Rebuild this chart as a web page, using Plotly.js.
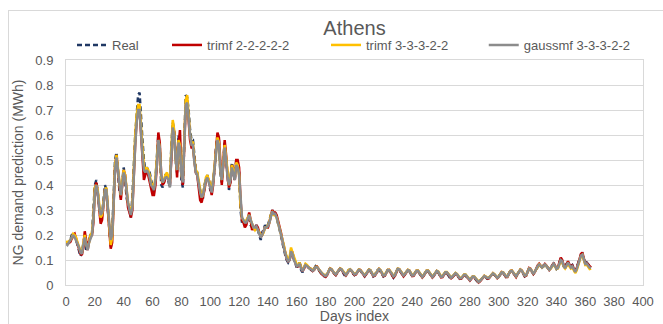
<!DOCTYPE html>
<html>
<head>
<meta charset="utf-8">
<script src="https://cdn.plot.ly/plotly-3.0.1.min.js"></script>
<style>
  html, body { margin: 0; padding: 0; background: #fff; }
  #wrap { position: relative; width: 663px; height: 324px; overflow: hidden; }
  #chart { position: absolute; left: 0; top: 0; width: 663px; height: 324px; }
  #frame { position: absolute; left: 8px; top: 10px; width: 670px; height: 330px;
           border: 1px solid #d9d9d9; pointer-events: none; }
</style>
</head>
<body>
<div id="wrap">
  <div id="chart"></div>
  <div id="frame"></div>
</div>
<script>
// Daily natural-gas demand for Athens (MWh), one value per day index 0..364
const real = [
  .17,.165,.17,.18,.2,.21,.19,.18,.16,.14,
  .115,.13,.17,.2,.14,.16,.19,.2,.2,.3,
  .4,.42,.36,.3,.26,.28,.33,.4,.38,.3,
  .22,.15,.2,.35,.5,.53,.45,.38,.35,.42,
  .47,.42,.35,.32,.3,.27,.35,.5,.6,.68,
  .76,.77,.65,.58,.5,.46,.47,.46,.45,.42,
  .4,.37,.42,.5,.6,.55,.4,.39,.42,.44,
  .44,.42,.39,.55,.65,.62,.5,.45,.6,.55,
  .42,.39,.6,.76,.75,.7,.62,.58,.58,.5,
  .46,.45,.4,.38,.35,.35,.4,.42,.44,.42,
  .38,.38,.42,.46,.55,.6,.58,.45,.41,.5,
  .57,.5,.42,.38,.42,.49,.45,.42,.5,.48,
  .45,.3,.25,.26,.24,.25,.27,.28,.24,.23,
  .22,.23,.24,.22,.2,.18,.21,.22,.24,.23,
  .24,.26,.29,.3,.28,.29,.27,.25,.22,.2,
  .17,.14,.12,.1,.09,.1,.14,.12,.1,.08,
  .07,.08,.09,.06,.05,.07,.08,.075,.07,.065,
  .06,.055,.065,.075,.07,.06,.05,.045,.04,.035,
  .035,.045,.06,.065,.06,.05,.045,.04,.05,.06,
  .065,.06,.05,.04,.04,.05,.06,.06,.055,.045,
  .04,.045,.055,.06,.058,.05,.04,.035,.045,.055,
  .06,.055,.045,.035,.04,.05,.06,.062,.055,.045,
  .035,.04,.05,.06,.058,.05,.04,.03,.04,.055,
  .065,.06,.05,.04,.035,.045,.055,.06,.055,.045,
  .035,.04,.05,.058,.055,.045,.035,.03,.04,.05,
  .058,.055,.045,.035,.03,.04,.05,.055,.05,.04,
  .03,.035,.045,.05,.048,.04,.03,.028,.035,.042,
  .045,.04,.032,.025,.028,.035,.04,.038,.03,.022,
  .02,.028,.035,.03,.022,.015,.012,.018,.025,.03,
  .035,.03,.025,.028,.035,.042,.045,.04,.032,.028,
  .035,.045,.05,.048,.04,.032,.035,.045,.055,.055,
  .048,.038,.035,.045,.055,.06,.055,.045,.035,.04,
  .055,.065,.06,.05,.045,.055,.065,.075,.08,.075,
  .07,.078,.082,.075,.068,.062,.07,.08,.085,.075,
  .065,.072,.09,.105,.095,.075,.07,.085,.09,.08,
  .075,.08,.065,.055,.07,.09,.1,.12,.125,.1,
  .085,.09,.08,.075,.072
];

// Model predictions: trimf 2-2-2-2-2
const trimf22222 = [
  .17,.17,.168,.172,.185,.2,.205,.185,.165,.145,
  .125,.12,.15,.215,.17,.14,.175,.195,.2,.25,
  .38,.41,.37,.3,.245,.26,.31,.38,.38,.3,
  .2,.145,.17,.32,.47,.52,.47,.4,.34,.4,
  .46,.44,.36,.31,.29,.27,.3,.45,.57,.66,
  .7,.7,.6,.5,.42,.44,.46,.44,.41,.38,
  .36,.36,.4,.48,.61,.57,.44,.4,.41,.43,
  .44,.43,.4,.5,.63,.61,.52,.43,.56,.62,
  .45,.4,.56,.72,.74,.64,.58,.55,.55,.5,
  .45,.44,.39,.34,.33,.35,.38,.42,.43,.42,
  .38,.36,.4,.46,.53,.61,.59,.47,.4,.48,
  .58,.52,.43,.39,.41,.48,.46,.42,.5,.5,
  .47,.34,.26,.25,.23,.24,.26,.29,.26,.22,
  .23,.22,.24,.23,.21,.19,.2,.22,.23,.23,
  .23,.25,.27,.3,.29,.29,.28,.26,.23,.21,
  .18,.15,.12,.105,.095,.1,.13,.13,.105,.085,
  .075,.075,.085,.07,.055,.065,.08,.078,.07,.068,
  .062,.056,.06,.072,.074,.063,.052,.046,.04,.036,
  .033,.04,.056,.066,.063,.052,.045,.04,.047,.058,
  .066,.062,.052,.042,.038,.047,.058,.062,.057,.047,
  .04,.042,.053,.061,.06,.052,.042,.035,.042,.053,
  .061,.058,.047,.036,.037,.048,.058,.064,.058,.047,
  .036,.037,.048,.059,.06,.052,.042,.031,.036,.052,
  .064,.063,.053,.042,.035,.042,.053,.06,.058,.047,
  .036,.037,.048,.057,.057,.047,.037,.03,.037,.048,
  .057,.057,.048,.037,.03,.036,.048,.056,.052,.042,
  .031,.032,.043,.05,.05,.042,.032,.027,.032,.041,
  .046,.042,.034,.025,.025,.033,.04,.04,.032,.023,
  .018,.025,.034,.032,.024,.016,.01,.015,.023,.03,
  .036,.032,.026,.026,.033,.042,.047,.042,.033,.027,
  .032,.044,.052,.05,.042,.032,.032,.043,.056,.058,
  .05,.038,.032,.043,.056,.062,.058,.046,.035,.037,
  .053,.068,.065,.052,.044,.052,.066,.078,.085,.078,
  .07,.075,.084,.078,.068,.06,.067,.08,.088,.078,
  .066,.07,.088,.11,.1,.078,.068,.085,.095,.082,
  .074,.078,.066,.052,.066,.09,.104,.124,.13,.105,
  .085,.088,.082,.074,.07
];

// Model predictions: trimf 3-3-3-2-2
const trimf33322 = [
  .175,.17,.175,.18,.19,.205,.2,.19,.17,.15,
  .135,.13,.16,.2,.16,.15,.17,.2,.21,.27,
  .39,.4,.38,.31,.27,.28,.32,.38,.39,.32,
  .23,.16,.19,.33,.48,.52,.46,.4,.36,.41,
  .46,.44,.37,.33,.31,.29,.32,.47,.6,.68,
  .72,.72,.62,.55,.48,.46,.47,.46,.44,.41,
  .4,.39,.43,.49,.58,.55,.43,.41,.43,.44,
  .45,.43,.41,.54,.66,.62,.5,.46,.58,.56,
  .44,.42,.58,.74,.76,.68,.6,.57,.57,.5,
  .46,.45,.41,.37,.35,.36,.4,.43,.44,.42,
  .39,.38,.42,.47,.54,.59,.57,.46,.42,.49,
  .56,.51,.44,.4,.43,.48,.46,.43,.49,.48,
  .44,.32,.27,.26,.25,.26,.27,.28,.26,.24,
  .23,.22,.23,.22,.21,.2,.2,.21,.23,.23,
  .24,.25,.28,.29,.28,.28,.27,.25,.23,.21,
  .19,.16,.13,.11,.1,.11,.15,.13,.11,.09,
  .08,.08,.09,.07,.06,.07,.085,.08,.072,.066,
  .065,.06,.062,.072,.073,.065,.055,.05,.045,.04,
  .038,.044,.058,.066,.064,.055,.048,.044,.05,.06,
  .066,.064,.055,.046,.042,.05,.06,.063,.058,.05,
  .044,.046,.055,.062,.06,.054,.045,.04,.046,.056,
  .062,.06,.05,.04,.041,.05,.06,.065,.06,.05,
  .04,.041,.05,.06,.061,.055,.046,.036,.04,.054,
  .066,.064,.055,.045,.04,.045,.055,.061,.058,.05,
  .04,.041,.05,.058,.058,.05,.04,.034,.04,.05,
  .058,.058,.05,.04,.034,.04,.05,.057,.054,.045,
  .035,.036,.045,.052,.052,.045,.036,.031,.035,.043,
  .048,.044,.036,.029,.029,.035,.042,.042,.035,.027,
  .022,.027,.035,.034,.027,.019,.014,.018,.025,.032,
  .037,.034,.029,.029,.035,.043,.047,.043,.036,.03,
  .034,.045,.052,.051,.044,.036,.035,.045,.056,.058,
  .051,.041,.036,.045,.056,.062,.058,.048,.038,.04,
  .054,.066,.064,.053,.047,.054,.065,.076,.082,.077,
  .07,.074,.08,.076,.068,.062,.066,.076,.082,.075,
  .064,.066,.08,.096,.092,.074,.066,.078,.085,.075,
  .066,.07,.058,.048,.058,.078,.095,.115,.12,.1,
  .08,.082,.07,.064,.066
];

// Model predictions: gaussmf 3-3-3-2-2
const gaussmf33322 = [
  .165,.16,.17,.18,.19,.2,.19,.18,.165,.15,
  .13,.125,.155,.19,.16,.14,.17,.19,.2,.26,
  .37,.4,.37,.31,.28,.29,.32,.38,.38,.31,
  .24,.18,.2,.31,.46,.51,.46,.4,.36,.4,
  .45,.43,.37,.33,.3,.28,.31,.45,.56,.65,
  .7,.7,.6,.52,.46,.45,.46,.45,.43,.4,
  .39,.38,.42,.48,.58,.55,.44,.41,.42,.43,
  .43,.42,.39,.52,.63,.6,.5,.46,.57,.55,
  .44,.41,.57,.72,.73,.66,.6,.56,.56,.49,
  .45,.44,.4,.37,.35,.36,.39,.42,.43,.41,
  .38,.37,.41,.46,.53,.58,.56,.46,.42,.48,
  .55,.5,.43,.4,.42,.47,.45,.42,.48,.47,
  .44,.33,.27,.26,.25,.25,.27,.28,.26,.24,
  .23,.23,.235,.22,.2,.19,.2,.22,.23,.23,
  .235,.25,.28,.295,.285,.285,.27,.25,.225,.2,
  .18,.15,.125,.105,.095,.1,.135,.125,.1,.085,
  .075,.078,.085,.065,.055,.068,.08,.076,.07,.066,
  .063,.057,.061,.071,.072,.064,.054,.048,.043,.038,
  .036,.042,.057,.065,.063,.054,.047,.042,.048,.058,
  .065,.063,.054,.044,.04,.048,.058,.062,.057,.048,
  .042,.044,.054,.061,.059,.053,.044,.038,.044,.054,
  .061,.059,.049,.038,.039,.048,.058,.064,.059,.048,
  .038,.039,.049,.059,.06,.054,.044,.034,.038,.053,
  .065,.063,.054,.044,.038,.044,.054,.06,.057,.048,
  .038,.039,.049,.057,.057,.048,.039,.032,.039,.049,
  .057,.057,.049,.039,.032,.038,.049,.056,.053,.044,
  .033,.034,.044,.051,.051,.044,.034,.029,.034,.042,
  .047,.043,.035,.027,.027,.034,.041,.041,.034,.025,
  .02,.026,.034,.033,.026,.018,.012,.017,.024,.031,
  .036,.033,.028,.028,.034,.042,.046,.042,.035,.029,
  .033,.044,.051,.05,.043,.035,.034,.044,.055,.057,
  .05,.04,.035,.044,.055,.061,.057,.047,.037,.039,
  .053,.066,.064,.053,.046,.053,.065,.076,.082,.077,
  .07,.075,.082,.077,.068,.061,.067,.078,.085,.076,
  .065,.068,.085,.1,.096,.076,.067,.082,.09,.08,
  .07,.075,.062,.052,.063,.085,.1,.118,.122,.1,
  .084,.086,.077,.07,.069
];

const seriesNames = ['Real', 'trimf 2-2-2-2-2', 'trimf 3-3-3-2-2', 'gaussmf 3-3-3-2-2'];
const xTicks = [0,20,40,60,80,100,120,140,160,180,200,220,240,260,280,300,320,340,360,380,400];
const yTicks = [0,0.1,0.2,0.3,0.4,0.5,0.6,0.7,0.8,0.9];

const days = real.map((_, i) => i);
const textColor = '#595959';
const gridColor = '#d9d9d9';
const fontFamily = '"Liberation Sans", Arial, sans-serif';

const traces = [
  { x: days, y: real, name: seriesNames[0], type: 'scatter', mode: 'lines', legend: 'legend',
    line: { color: '#203864', width: 2.5, dash: '5px,3px' } },
  { x: days, y: trimf22222, name: seriesNames[1], type: 'scatter', mode: 'lines', legend: 'legend2',
    line: { color: '#c00000', width: 2.5 } },
  { x: days, y: trimf33322, name: seriesNames[2], type: 'scatter', mode: 'lines', legend: 'legend3',
    line: { color: '#ffc000', width: 2.5 } },
  { x: days, y: gaussmf33322, name: seriesNames[3], type: 'scatter', mode: 'lines', legend: 'legend4',
    line: { color: '#8c8c8c', width: 2.5 } }
];

// one legend box per series so each entry sits at its own horizontal slot
function legendAt(x) {
  return { orientation: 'h', x: x, xanchor: 'left', y: 1.0, yanchor: 'bottom',
           font: { size: 13, color: textColor, family: fontFamily }, bgcolor: 'rgba(0,0,0,0)' };
}

const layout = {
  width: 663, height: 324,
  margin: { l: 66, r: 20, t: 60, b: 39, pad: 0 },
  paper_bgcolor: 'rgba(0,0,0,0)', plot_bgcolor: '#fff',
  font: { family: fontFamily, color: textColor, size: 13 },
  title: { text: 'Athens', x: 0.5, xref: 'paper', xanchor: 'center',
           y: 0.915, yref: 'container', yanchor: 'middle',
           font: { size: 20, color: textColor, family: fontFamily } },
  showlegend: true,
  legend: legendAt(0.0104),
  legend2: legendAt(0.175),
  legend3: legendAt(0.4506),
  legend4: legendAt(0.724),
  xaxis: {
    range: [0, 400], tickmode: 'array', tickvals: xTicks, ticktext: xTicks.map(String),
    showgrid: false, zeroline: false, showline: true, linecolor: gridColor, linewidth: 1,
    mirror: true, ticks: '', ticklabelstandoff: 4, tickfont: { size: 13, color: textColor },
    title: { text: 'Days index', standoff: 5, font: { size: 14, color: textColor } }
  },
  yaxis: {
    range: [0, 0.9], tickmode: 'array', tickvals: yTicks, ticktext: yTicks.map(v => v === 0 ? '0' : String(v)),
    showgrid: true, gridcolor: gridColor, gridwidth: 1, zeroline: false,
    showline: true, linecolor: gridColor, linewidth: 1, mirror: true, ticks: '',
    ticklabelstandoff: 9, tickfont: { size: 13, color: textColor },
    title: { text: 'NG demand prediction (MWh)', standoff: 8, font: { size: 14, color: textColor } }
  }
};

Plotly.newPlot('chart', traces, layout, { displayModeBar: false, staticPlot: true });
</script>
</body>
</html>
